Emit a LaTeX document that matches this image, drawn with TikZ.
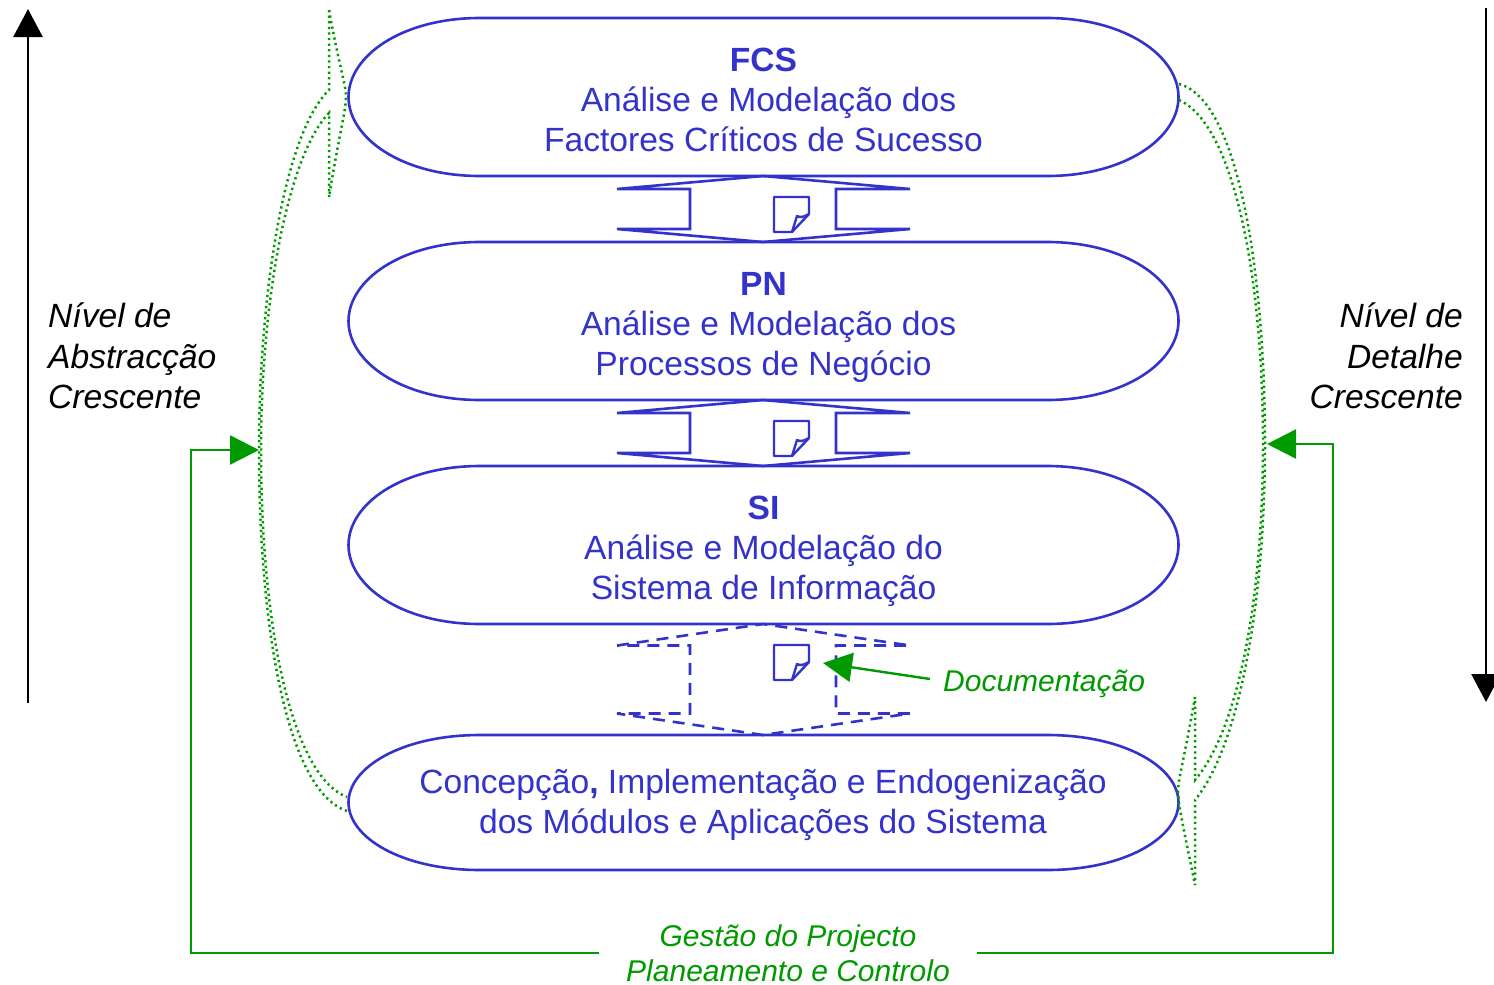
\documentclass[tikz,border=0pt]{standalone}
\usepackage{fontspec}
\setmainfont{Liberation Sans}
\usepackage{xcolor}
\usepackage{tikz}
\usetikzlibrary{arrows.meta}
\definecolor{pillblue}{HTML}{3333CC}
\definecolor{darkgreen}{HTML}{009900}
\tikzstyle{pill} = [pillblue,line width=2.6pt]
\tikzstyle{pilltext} = [pillblue,align=center,inner sep=0pt,font=\fontsize{33.6}{40}\selectfont]
\tikzstyle{sidetext} = [inner sep=0pt,font=\fontsize{33.6}{40.5}\selectfont\itshape]
\tikzstyle{greentext} = [darkgreen,inner sep=0pt,font=\fontsize{30}{35}\selectfont\itshape]
\tikzstyle{greenline} = [darkgreen,line width=2.4pt]
\tikzstyle{greenarrow} = [greenline,-{Triangle[length=29pt,width=29pt]}]
\tikzstyle{blackarrow} = [black,line width=2.6pt,-{Triangle[length=28pt,width=29pt]}]
\tikzstyle{dotline} = [darkgreen,line width=2.5pt,dash pattern=on 2.2pt off 3.4pt]
% pill outline: top and bottom edge of the box
\newcommand{\pillshape}[2]{
	\draw[pill] (480,#1) -- (1047,#1) .. controls (1125,#1) and (1178.5,{#1+(#2-#1)*0.24}) .. (1178.5,{(#1+#2)/2})
	.. controls (1178.5,{#2-(#2-#1)*0.24}) and (1125,#2) .. (1047,#2) -- (480,#2)
	.. controls (402,#2) and (348.5,{#2-(#2-#1)*0.24}) .. (348.5,{(#1+#2)/2})
	.. controls (348.5,{#1+(#2-#1)*0.24}) and (402,#1) .. (480,#1) -- cycle;
}
% two-headed hollow arrow between the pills, #4 is the height of its heads
\newcommand{\docarrow}[4][]{
	\draw[pill,#1] (617,{#2+#4}) -- (763,#2) -- (910,{#2+#4}) -- (836,{#2+#4}) -- (836,{#3-#4}) -- (910,{#3-#4})
	-- (763,#3) -- (617,{#3-#4}) -- (690,{#3-#4}) -- (690,{#2+#4}) -- cycle;
	\draw[pillblue,line width=2.4pt,line join=round] (774,{#2+21}) -- (809,{#2+21}) -- (809,{#2+38}) -- (792,{#2+56}) -- (774,{#2+56}) -- cycle;
	\draw[pillblue,line width=2.4pt,line join=round] (792,{#2+56}) -- (797,{#2+40}) .. controls (800,{#2+42}) and (804,{#2+41}) .. (809,{#2+38});
}
\begin{document}
\begin{tikzpicture}[x=1pt,y=-1pt]
	\useasboundingbox (0,0) rectangle (1494,985);

	% Pills:
	\pillshape{18}{176}
	\pillshape{242}{400}
	\pillshape{466}{624}
	\pillshape{735}{870}
	\node[pilltext] (fcs) at (763.5,100) {\textbf{FCS}\\\hspace*{10pt}Análise e Modelação dos\\Factores Críticos de Sucesso};
	\node[pilltext] (pn) at (763.5,327) {\textbf{PN}\\\hspace*{10pt}Análise e Modelação dos\\Processos de Negócio};
	\node[pilltext] (si) at (763.5,551) {\textbf{SI}\\Análise e Modelação do\\Sistema de Informação};
	\node[pilltext] (cim) at (763,805) {Concepção{\bfseries,} Implementação e Endogenização\\dos Módulos e Aplicações do Sistema};

	% Arrows between the pills:
	\docarrow{176}{242}{13}
	\docarrow{400}{466}{13}
	\docarrow[dash pattern=on 12pt off 8pt]{624}{735}{21.5}

	% Side labels and black arrows:
	\node[sidetext,align=left,anchor=west] (abstr) at (48,356) {Nível de\\Abstracção\\Crescente};
	\node[sidetext,align=right,anchor=east] (detail) at (1463,356) {Nível de\\Detalhe\\Crescente};
	\coordinate (uptail) at (28,703);
	\coordinate (uptip) at (28,9);
	\coordinate (downtail) at (1486,8);
	\coordinate (downtip) at (1486,702);
	\draw[blackarrow] (uptail) -- (uptip);
	\draw[blackarrow] (downtail) -- (downtip);

	% Dotted braces:
	\draw[dotline] (329,10) -- (329,90) .. controls (283,135) and (259,300) .. (259,450) .. controls (259,620) and (285,790) .. (347,811);
	\draw[dotline] (329,197) -- (329,113) .. controls (288,155) and (261,300) .. (261,450) .. controls (261,620) and (290,775) .. (347,797);
	\draw[dotline] (329,10) .. controls (340,70) and (346,85) .. (346,97) .. controls (346,110) and (340,130) .. (329,197);
	\draw[dotline] (1179,84) .. controls (1240,100) and (1265,280) .. (1265,444) .. controls (1265,600) and (1240,745) .. (1195,800) -- (1195,885);
	\draw[dotline] (1179,100) .. controls (1235,125) and (1263,280) .. (1263,444) .. controls (1263,600) and (1238,730) .. (1195,780) -- (1195,697);
	\draw[dotline] (1195,697) .. controls (1184,760) and (1178,780) .. (1178,791) .. controls (1178,805) and (1184,830) .. (1195,885);

	% Green labels and arrows:
	\node[greentext,anchor=west] (doclabel) at (943,684) {Documentação};
	\coordinate (doctail) at (930,679);
	\coordinate (doctip) at (823,663);
	\draw[greenarrow] (doctail) -- (doctip);
	\node[greentext,align=center,inner xsep=27.5pt] (gestao) at (788,953) {Gestão do Projecto\\Planeamento e Controlo};
	\coordinate (leftturn) at (191,450);
	\coordinate (leftin) at (259,450);
	\coordinate (rightturn) at (1333,444);
	\coordinate (rightin) at (1267,444);
	\draw[greenarrow] (gestao.west) -| (leftturn) -- (leftin);
	\draw[greenarrow] (gestao.east) -| (rightturn) -- (rightin);
\end{tikzpicture}
\end{document}
